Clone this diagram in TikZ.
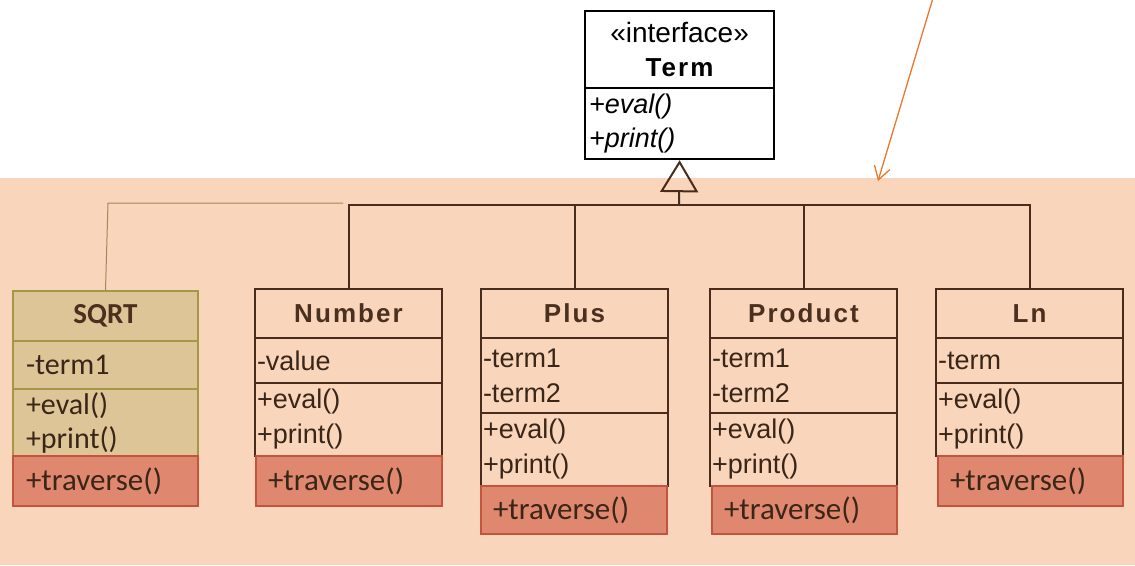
\documentclass[tikz,border=0pt]{standalone}
\usepackage{fontspec}
\setmainfont{Liberation Sans}
\newfontfamily\calfont{Carlito}
\newfontfamily\ttlfont[LetterSpace=8]{Liberation Sans}
\usetikzlibrary{arrows.meta}
\definecolor{peach}{HTML}{F8D5BB}
\definecolor{umlline}{HTML}{4A2C1C}
\definecolor{umltext}{HTML}{3A2618}
\definecolor{ttltext}{HTML}{4B3020}
\definecolor{sqfill}{HTML}{DEC597}
\definecolor{sqline}{HTML}{A39846}
\definecolor{trfill}{HTML}{E0886F}
\definecolor{trline}{HTML}{C2553E}
\definecolor{orangearrow}{HTML}{E8782A}
\definecolor{thinlink}{HTML}{A98458}
\newcommand{\comp}[8]{%
  \pgfmathsetmacro{\tw}{#5-2*#7}%
  \node[#2, anchor=north west, inner xsep=#7pt, inner ysep=0pt,
        minimum width=#5pt, minimum height=#6pt, text width=\tw pt] (#1) at (#3,#4) {#8};}
\tikzset{
  termbox/.style={draw=black, fill=white, line width=2.2pt, text=black,
                  font=\fontsize{27}{34}\selectfont},
  umlbox/.style={draw=umlline, line width=2pt, text=umltext,
                 font=\fontsize{27}{35}\selectfont, align=left},
  umltitle/.style={umlbox, text=ttltext, align=center,
                   font=\ttlfont\bfseries\fontsize{26}{30}\selectfont},
  sqbox/.style={draw=sqline, fill=sqfill, line width=2pt, text=umltext,
                font=\calfont\fontsize{30}{34}\selectfont, align=left},
  sqtitle/.style={sqbox, text=ttltext, align=center,
                  font=\calfont\bfseries\fontsize{29}{34}\selectfont},
  travbox/.style={draw=trline, fill=trfill, line width=2pt, text=umltext,
                  font=\calfont\fontsize{31}{34}\selectfont, align=left},
  conn/.style={draw=umlline, line width=2pt},
  inherit/.style={conn, -{Triangle[open, length=32pt, width=38pt, line width=2pt]}},
  thinconn/.style={draw=thinlink, line width=1pt},
  pointer/.style={draw=orangearrow, line width=1.3pt,
                  -{Straight Barb[length=13pt, width=16pt, line width=1.3pt]}}
}
\begin{document}
\begin{tikzpicture}[x=1pt, y=-1pt]
\useasboundingbox (0,0) rectangle (1135,565);
\fill[peach] (0,178) rectangle (1135,565);

% Term interface
\comp{termA}{termbox, align=center}{584}{10}{189}{77}{4}{{\fontsize{28}{34}\selectfont «interface»}\\{\ttlfont\bfseries\fontsize{26}{30}\selectfont Term}}
\comp{termB}{termbox, align=left}{584}{87}{189}{71}{4}{\itshape +eval()\\+print()}

% SQRT
\comp{sqT}{sqtitle}{12}{290}{185}{50}{4}{SQRT}
\comp{sqA}{sqbox}{12}{340}{185}{48}{13}{-term1}
\comp{sqO}{sqbox}{12}{388}{185}{67}{13}{+eval()\\+print()}
\comp{sqR}{travbox}{12}{455}{185}{50}{13}{+traverse()}

% Number
\comp{numT}{umltitle}{254}{288}{187}{49}{4}{Number}
\comp{numA}{umlbox}{254}{337}{187}{45}{2}{-value}
\comp{numO}{umlbox}{254}{382}{187}{73}{2}{+eval()\\+print()}
\comp{numR}{travbox}{255}{455}{186}{50}{12}{+traverse()}

% Plus
\comp{plT}{umltitle}{480}{288}{187}{49}{4}{Plus}
\comp{plA}{umlbox}{480}{337}{187}{75}{2}{-term1\\-term2}
\comp{plO}{umlbox}{480}{412}{187}{73}{2}{+eval()\\+print()}
\comp{plR}{travbox}{480}{485}{186}{48}{12}{+traverse()}

% Product
\comp{prT}{umltitle}{709}{288}{187}{49}{4}{Product}
\comp{prA}{umlbox}{709}{337}{187}{75}{2}{-term1\\-term2}
\comp{prO}{umlbox}{709}{412}{187}{73}{2}{+eval()\\+print()}
\comp{prR}{travbox}{711}{485}{185}{48}{12}{+traverse()}

% Ln
\comp{lnT}{umltitle}{935}{288}{187}{49}{4}{Ln}
\comp{lnA}{umlbox}{935}{337}{187}{45}{2}{-term}
\comp{lnO}{umlbox}{935}{382}{187}{73}{2}{+eval()\\+print()}
\comp{lnR}{travbox}{937}{455}{185}{50}{12}{+traverse()}

% connectors
\coordinate (bus) at (679,205);
\draw[conn] (numT.north) |- (bus) -| (lnT.north);
\draw[conn] (plT.north) |- (bus);
\draw[conn] (prT.north) |- (bus);
\draw[inherit] (bus) -- (termB.south);

\coordinate (sqbend) at (108,203);
\coordinate (sqend) at (343,203);
\draw[thinconn] (sqT.north) -- (sqbend) -- (sqend);

\coordinate (arrStart) at (933,-2);
\coordinate (arrEnd) at (878,181);
\draw[pointer] (arrStart) -- (arrEnd);
\end{tikzpicture}
\end{document}
